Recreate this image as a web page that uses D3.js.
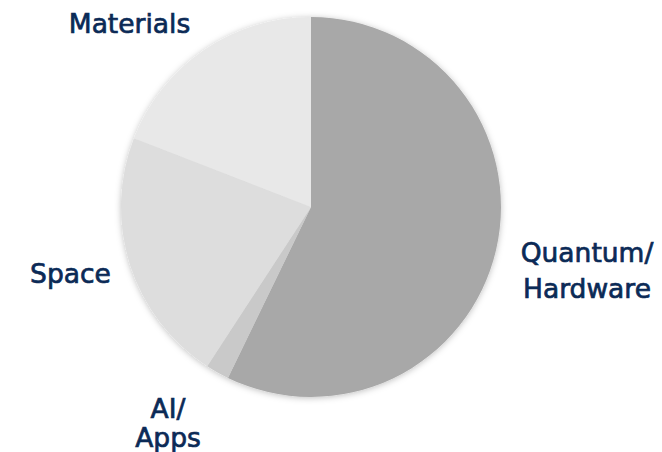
<!DOCTYPE html>
<html><head><meta charset="utf-8">
<script src="https://cdn.jsdelivr.net/npm/d3@7/dist/d3.min.js"></script>
<style>body{margin:0;background:#fff}svg{display:block}</style>
</head><body>
<svg id="c" width="662" height="452"></svg>
<script>
const categories = ["Quantum/Hardware", "AI/Apps", "Space", "Materials"];
const values = [57.2, 2.0, 21.7, 19.1];
const labelLines = [["Quantum/", "Hardware"], ["AI/", "Apps"], ["Space"], ["Materials"]];
const colors = ["#a8a8a8", "#c9c9c9", "#dddddd", "#e8e8e8"];
// label layout (page px): block centre x, first baseline y, line gap
const labelLayout = [[587, 261.5, 36.5], [168, 418, 28.7], [70.5, 283.3, 0], [129.5, 33.3, 0]];

const cx = 311, cy = 207, R = 190;
const svg = d3.select("#c");
const defs = svg.append("defs");
const f = defs.append("filter").attr("id","sh").attr("x","-20%").attr("y","-20%").attr("width","140%").attr("height","140%");
f.append("feDropShadow").attr("dx",0).attr("dy",1).attr("stdDeviation",3).attr("flood-color","#000").attr("flood-opacity",0.25);

const pie = d3.pie().sort(null).value(d => d)(values);
const arc = d3.arc().innerRadius(0).outerRadius(R);
const g = svg.append("g").attr("transform", `translate(${cx},${cy})`);
g.append("g").attr("filter","url(#sh)")
  .selectAll("path").data(pie).join("path")
  .attr("d", arc).attr("fill", (d,i) => colors[i]);

const fs = 26.5;
labelLines.forEach((lines, i) => {
  const [x, y0, gap] = labelLayout[i];
  const t = svg.append("text").attr("text-anchor","middle")
    .attr("font-family","'DejaVu Sans', sans-serif")
    .attr("font-size",fs).attr("fill","#0b2a56")
    .attr("stroke","#0b2a56").attr("stroke-width",0.7);
  lines.forEach((s,k) => {
    t.append("tspan").attr("x", x).attr("y", y0 + k*gap).text(s);
  });
});
</script>
</body></html>
